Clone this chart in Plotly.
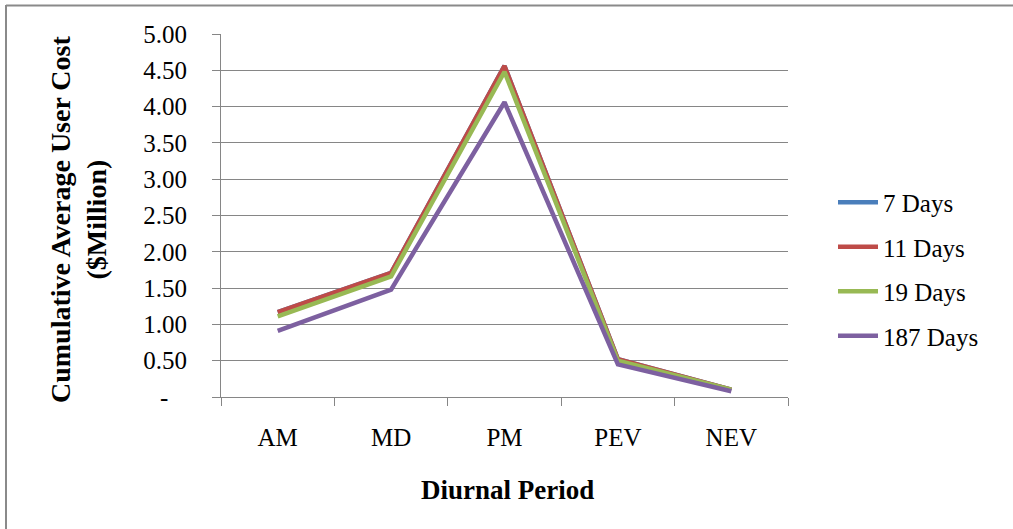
import plotly.graph_objects as go

# ---- data ----
periods = ["AM", "MD", "PM", "PEV", "NEV"]
series_names = ["7 Days", "11 Days", "19 Days", "187 Days"]
days_7 = [1.17, 1.71, 4.56, 0.52, 0.10]
days_11 = [1.17, 1.71, 4.56, 0.52, 0.10]
days_19 = [1.11, 1.66, 4.48, 0.50, 0.10]
days_187 = [0.91, 1.48, 4.06, 0.45, 0.08]
y_tickvals = [0, 0.5, 1.0, 1.5, 2.0, 2.5, 3.0, 3.5, 4.0, 4.5, 5.0]
y_ticktext = ["-\u00a0\u00a0\u00a0"] + ["%.2f" % v for v in y_tickvals[1:]]

colors = ["#4A7EBB", "#BE4B48", "#98B954", "#7D60A0"]
series = [days_7, days_11, days_19, days_187]

W, H = 1013, 529
L, R, T, B = 221, 225, 34, 132
pw, ph = W - L - R, H - T - B


def px_x(x):
    return (x - L) / pw


def px_y(y):
    return (H - B - y) / ph


FONT = "Liberation Serif, Times New Roman, serif"
GRAY = "#868686"

fig = go.Figure()
for name, vals, col in zip(series_names, series, colors):
    fig.add_trace(go.Scatter(
        x=periods, y=vals, name=name, mode="lines",
        line=dict(color=col, width=4.5),
        legendgroup=name,
    ))

fig.update_layout(
    width=W, height=H,
    margin=dict(l=L, r=R, t=T, b=B),
    paper_bgcolor="white", plot_bgcolor="white",
    font=dict(family=FONT, size=24, color="black"),
    showlegend=True,
    legend=dict(
        x=px_x(833), y=px_y(269), xanchor="left", yanchor="middle",
        font=dict(family=FONT, size=25, color="black"),
        tracegroupgap=9, itemwidth=40, bgcolor="rgba(0,0,0,0)",
    ),
    xaxis=dict(
        type="category", range=[-0.5, 4.5], tickson="boundaries",
        showgrid=False, showline=True, linecolor=GRAY, linewidth=1,
        ticks="outside", ticklen=8, tickcolor=GRAY,
        tickfont=dict(family=FONT, size=25, color="black"),
        ticklabelstandoff=18,
    ),
    yaxis=dict(
        range=[0, 5], tickvals=y_tickvals, ticktext=y_ticktext,
        showgrid=True, gridcolor=GRAY, gridwidth=1,
        showline=True, linecolor=GRAY, linewidth=1,
        ticks="outside", ticklen=8, tickcolor=GRAY,
        tickfont=dict(family=FONT, size=25, color="black"),
        ticklabelstandoff=20, zeroline=False,
    ),
    annotations=[
        dict(text="<b>Cumulative Average User Cost<br>($Million)</b>",
             xref="paper", yref="paper", x=px_x(78), y=px_y(220),
             xanchor="center", yanchor="middle", textangle=-90,
             showarrow=False, font=dict(family=FONT, size=28, color="black")),
        dict(text="<b>Diurnal Period</b>",
             xref="paper", yref="paper", x=px_x(507), y=px_y(490),
             xanchor="center", yanchor="middle",
             showarrow=False, font=dict(family=FONT, size=27, color="black")),
    ],
    shapes=[
        dict(type="line", xref="paper", yref="paper",
             x0=px_x(6), x1=px_x(6), y0=px_y(5), y1=px_y(H),
             line=dict(color="#8a8a8a", width=2)),
        dict(type="line", xref="paper", yref="paper",
             x0=px_x(6), x1=px_x(W), y0=px_y(5.5), y1=px_y(5.5),
             line=dict(color="#8a8a8a", width=2)),
    ],
)

fig.write_html("out.html")
